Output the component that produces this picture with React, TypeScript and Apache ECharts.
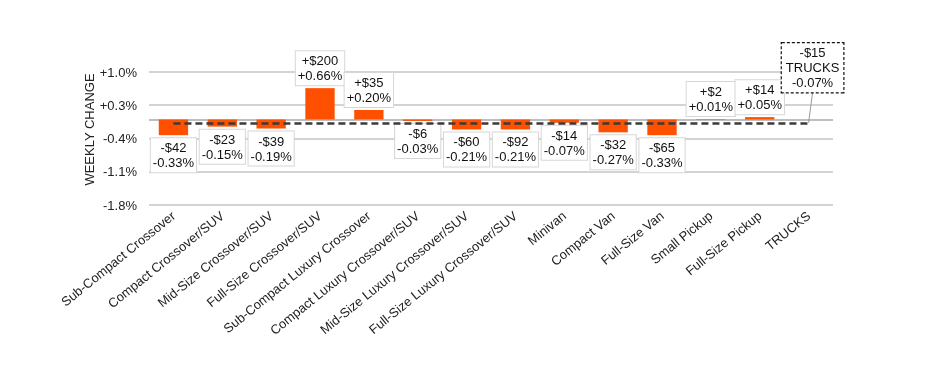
import React, { useEffect, useRef } from "react";
import * as echarts from "echarts";

const categories = [
  "Sub-Compact Crossover",
  "Compact Crossover/SUV",
  "Mid-Size Crossover/SUV",
  "Full-Size Crossover/SUV",
  "Sub-Compact Luxury Crossover",
  "Compact Luxury Crossover/SUV",
  "Mid-Size Luxury Crossover/SUV",
  "Full-Size Luxury Crossover/SUV",
  "Minivan",
  "Compact Van",
  "Full-Size Van",
  "Small Pickup",
  "Full-Size Pickup",
  "TRUCKS",
];
const pctChange = [-0.33, -0.15, -0.19, 0.66, 0.2, -0.03, -0.21, -0.21, -0.07, -0.27, -0.33, 0.01, 0.05, null];
const dollarChange = [-42, -23, -39, 200, 35, -6, -60, -92, -14, -32, -65, 2, 14, -15];
const trucksPct = -0.07;
const yTicks = [-1.8, -1.1, -0.4, 0.3, 1.0];

const fmtDollar = (d: number) => (d >= 0 ? "+$" + d : "-$" + Math.abs(d));
const fmtPct = (p: number) => (p >= 0 ? "+" : "-") + Math.abs(p).toFixed(2) + "%";

export default function App() {
  const ref = useRef<HTMLDivElement>(null);
  useEffect(() => {
    const chart = echarts.init(ref.current!, undefined, { renderer: "svg" });
    const font = "Liberation Sans, Arial, sans-serif";
    const lastIdx = categories.length - 1;
    const trucksData = categories.map((_, i) => (i === lastIdx ? trucksPct : null));
    const labelGap = 30;
    chart.setOption({
      animation: false,
      textStyle: { fontFamily: font },
      grid: { left: 149, right: 113, top: 72, bottom: 161, outerBoundsMode: "none", containLabel: false },
      xAxis: {
        type: "category",
        data: categories,
        axisLine: { show: false, onZero: false },
        axisTick: { show: false },
        axisLabel: {
          interval: 0,
          rotate: 39,
          fontSize: 13,
          color: "#222",
          margin: 9,
          fontFamily: font,
        },
      },
      yAxis: {
        type: "value",
        min: yTicks[0],
        max: yTicks[yTicks.length - 1],
        interval: 0.7,
        name: "WEEKLY CHANGE",
        nameLocation: "middle",
        nameGap: 53,
        nameMoveOverlap: false,
        nameRotate: 90,
        nameTextStyle: { fontSize: 13, color: "#222", fontFamily: font, padding: [0, 0, 0, 18] },
        axisLine: { show: false },
        axisTick: { show: false },
        axisLabel: {
          fontSize: 13,
          color: "#222",
          margin: 12,
          fontFamily: font,
          formatter: (v: number) => (v > 0 ? "+" : "") + v.toFixed(1) + "%",
        },
        splitLine: { lineStyle: { color: "#c4c4c4", width: 1.5 } },
      },
      series: [
        {
          type: "bar",
          data: pctChange,
          barWidth: "60%",
          itemStyle: { color: "#ff5000" },
          z: 2,
          label: {
            show: true,
            position: "outside",
            distance: 3,
            fontSize: 13,
            lineHeight: 15,
            color: "#111",
            fontFamily: font,
            backgroundColor: "#fff",
            borderColor: "#d6d6d6",
            borderWidth: 1,
            padding: [2, 2],
            formatter: (p: any) => fmtDollar(dollarChange[p.dataIndex]) + "\n" + fmtPct(p.value),
          },
          markLine: {
            silent: true,
            symbol: "none",
            label: { show: false },
            z: 1,
            lineStyle: { color: "#a8a8a8", width: 1.5, type: "solid" },
            data: [{ yAxis: 0 }],
          },
        },
        {
          type: "scatter",
          data: trucksData,
          symbolSize: 1,
          itemStyle: { color: "rgba(0,0,0,0)", opacity: 1 },
          z: 6,
          label: {
            show: true,
            position: "top",
            distance: labelGap,
            offset: [4, 0],
            fontSize: 13,
            lineHeight: 15,
            color: "#111",
            fontFamily: font,
            backgroundColor: "#fff",
            borderColor: "#111",
            borderWidth: 1.2,
            borderType: [3, 2],
            padding: [2, 4],
            formatter: (p: any) =>
              fmtDollar(dollarChange[p.dataIndex]) + "\n" + categories[p.dataIndex] + "\n" + fmtPct(p.value),
          },
          markLine: {
            silent: true,
            symbol: "none",
            label: { show: false },
            z: 5,
            lineStyle: { color: "#3a3a3a", width: 2.5, type: [7, 4] },
            data: [[{ coord: [0, trucksPct] }, { coord: [lastIdx, trucksPct] }]],
          },
        },
      ],
    });
    const pt = chart.convertToPixel({ seriesIndex: 1 }, [lastIdx, trucksPct]) as number[];
    if (pt) {
      chart.setOption({
        graphic: [
          {
            type: "line",
            z: 4,
            shape: { x1: pt[0], y1: pt[1], x2: pt[0] + 4, y2: pt[1] - labelGap },
            style: { stroke: "#999", lineWidth: 1 },
          },
        ],
      });
    }
    return () => chart.dispose();
  }, []);
  return <div ref={ref} style={{ position: "fixed", left: 0, top: 0, width: 946, height: 366 }} />;
}
